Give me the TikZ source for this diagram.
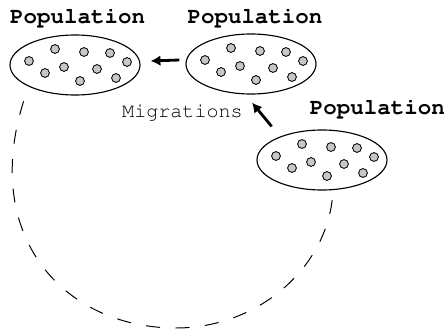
\documentclass[tikz,border=0pt]{standalone}
\usepackage[T1]{fontenc}
\usepackage{courier}
\usetikzlibrary{shapes.geometric,arrows.meta}

\begin{document}
\begin{tikzpicture}[scale=1,
    pool/.style={ellipse, draw, line width=0.8pt, minimum width=3.25cm, minimum height=1.5cm, inner sep=0pt},
    member/.style={fill=black!22, draw, line width=0.6pt},
    poptitle/.style={font=\ttfamily\bfseries\fontsize{16}{18}\selectfont, inner sep=0pt},
    migarrow/.style={-{Latex[length=7pt,width=7.5pt]}, line width=2pt},
    migpath/.style={line width=0.7pt, dash pattern=on 10pt off 11pt, dash phase=10pt}]
    \useasboundingbox (0,0) rectangle (11.1,8.275);
    \node[pool] (pop1) at (1.875,6.65) {};
    \node[pool] (pop2) at (6.275,6.675) {};
    \node[pool] (pop3) at (8.05,4.275) {};
    \foreach \p in {pop1,pop2,pop3}
        \foreach \dx/\dy in {-1.15/0.1, -0.5/0.4, -0.75/-0.2, -0.275/-0.05, 0.225/0.325,
                             0.125/-0.4, 0.55/-0.1, 0.875/0.3, 1.025/-0.325, 1.3/0.075}
            \filldraw[member] ([shift={(\dx,\dy)}]\p.center) circle (0.11);
    \node[poptitle, anchor=base] (title1) at (1.94,7.675) {Population};
    \node[poptitle, anchor=base] (title2) at (6.375,7.675) {Population};
    \node[poptitle, anchor=base west] (title3) at (7.74,5.4) {Population};
    \node[font=\ttfamily\fontsize{14.3}{16}\selectfont, inner sep=0pt, anchor=base] (mig) at (4.5625,5.325) {Migrations};
    \draw[migarrow] ([shift={(-0.15,0.1)}]pop2.west) -- ([shift={(0.25,0.1)}]pop1.east);
    \draw[migarrow] ([shift={(-0.1,0.3)}]pop3.north west) -- ([shift={(0.025,-0.2)}]pop2.south);
    \draw[migpath] (pop1.205) .. controls (-0.625,2.525) and (1.5,0.075) .. (4.4,0.075)
        .. controls (6.5,0.075) and (8.25,1.65) .. (pop3.290);
\end{tikzpicture}
\end{document}
